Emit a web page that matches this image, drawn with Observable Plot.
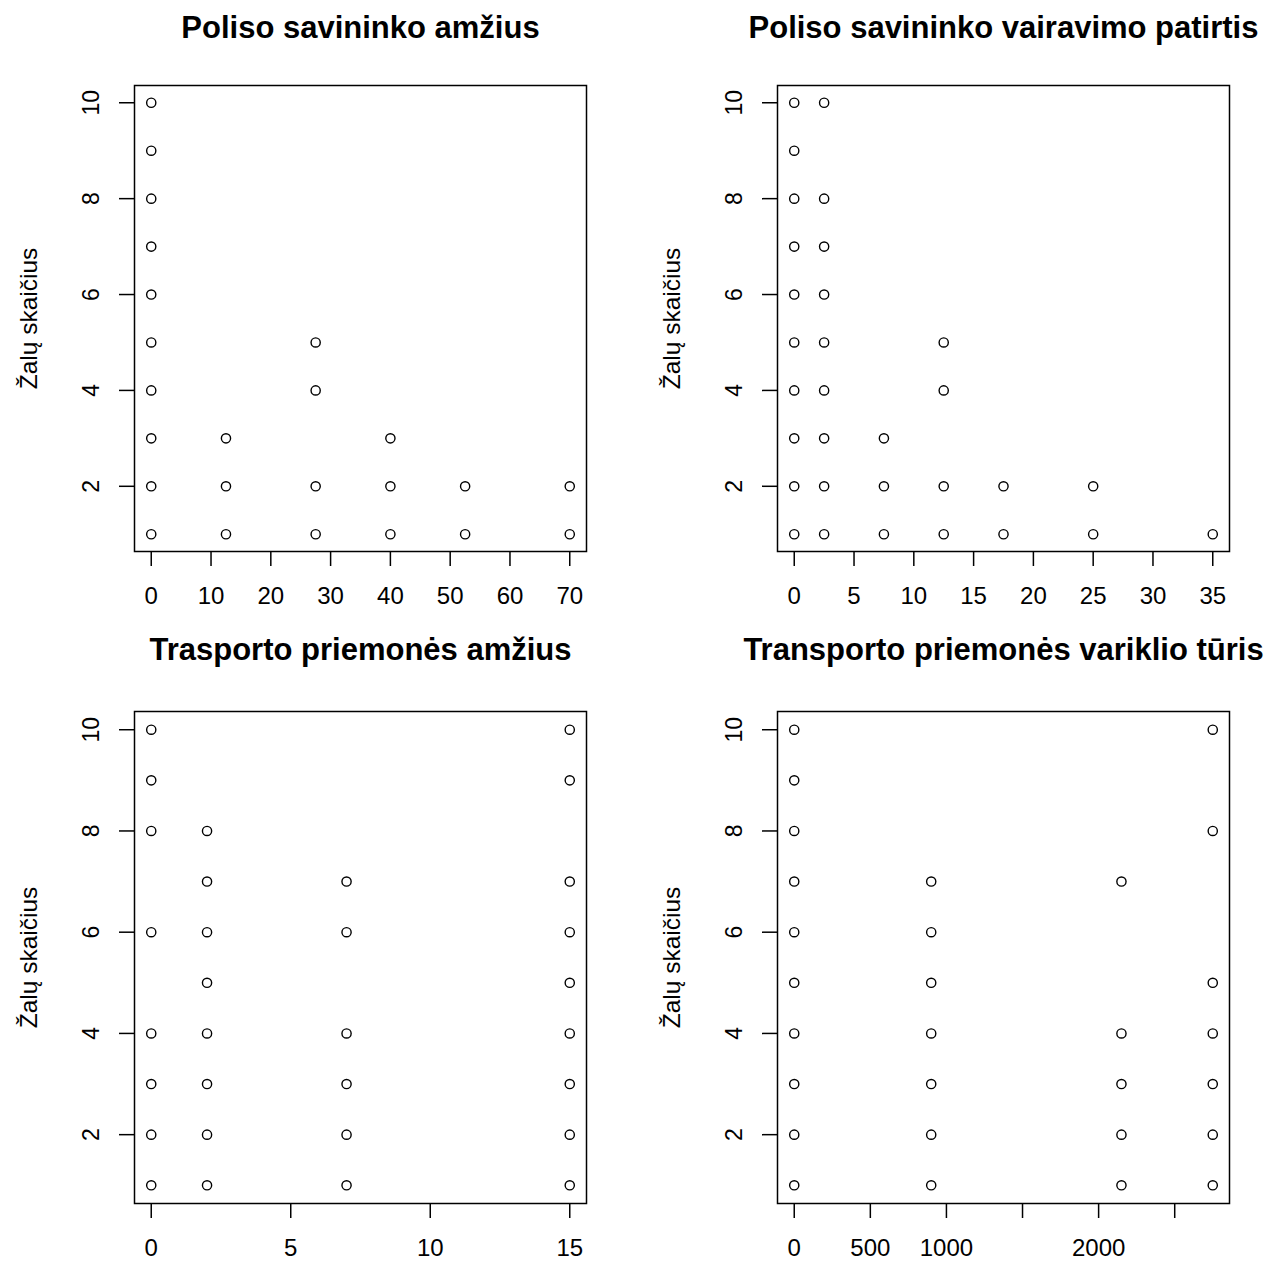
<!DOCTYPE html>
<html>
<head>
<meta charset="utf-8">
<script src="https://cdn.jsdelivr.net/npm/d3@7"></script>
<script src="https://cdn.jsdelivr.net/npm/@observablehq/plot@0.6"></script>
<style>
  html, body { margin: 0; padding: 0; background: white; }
  #wrap { position: relative; width: 1284px; height: 1264px; overflow: hidden; background: white; }
  .panel { position: absolute; }
</style>
</head>
<body>
<div id="wrap"></div>
<script>
// ---- Data ----
const titles = [
  "Poliso savininko amžius",
  "Poliso savininko vairavimo patirtis",
  "Trasporto priemonės amžius",
  "Transporto priemonės variklio tūris"
];
const yLabel = "Žalų skaičius";
const yTicks = [2, 4, 6, 8, 10];

// Panel 1: owner age
const ownerAgeX = [0,0,0,0,0,0,0,0,0,0, 12.5,12.5,12.5, 27.5,27.5,27.5,27.5, 40,40,40, 52.5,52.5, 70,70];
const ownerAgeY = [1,2,3,4,5,6,7,8,9,10, 1,2,3, 1,2,4,5, 1,2,3, 1,2, 1,2];
const ownerAgeTicks = [0, 10, 20, 30, 40, 50, 60, 70];
const ownerAgeLabels = ["0", "10", "20", "30", "40", "50", "60", "70"];

// Panel 2: driving experience
const experienceX = [0,0,0,0,0,0,0,0,0,0, 2.5,2.5,2.5,2.5,2.5,2.5,2.5,2.5,2.5, 7.5,7.5,7.5, 12.5,12.5,12.5,12.5, 17.5,17.5, 25,25, 35];
const experienceY = [1,2,3,4,5,6,7,8,9,10, 1,2,3,4,5,6,7,8,10, 1,2,3, 1,2,4,5, 1,2, 1,2, 1];
const experienceTicks = [0, 5, 10, 15, 20, 25, 30, 35];
const experienceLabels = ["0", "5", "10", "15", "20", "25", "30", "35"];

// Panel 3: vehicle age
const vehicleAgeX = [0,0,0,0,0,0,0,0, 2,2,2,2,2,2,2,2, 7,7,7,7,7,7, 15,15,15,15,15,15,15,15,15];
const vehicleAgeY = [1,2,3,4,6,8,9,10, 1,2,3,4,5,6,7,8, 1,2,3,4,6,7, 1,2,3,4,5,6,7,9,10];
const vehicleAgeTicks = [0, 5, 10, 15];
const vehicleAgeLabels = ["0", "5", "10", "15"];

// Panel 4: engine volume
const engineX = [0,0,0,0,0,0,0,0,0,0, 900,900,900,900,900,900,900, 2150,2150,2150,2150,2150, 2750,2750,2750,2750,2750,2750,2750];
const engineY = [1,2,3,4,5,6,7,8,9,10, 1,2,3,4,5,6,7, 1,2,3,4,7, 1,2,3,4,5,8,10];
const engineTicks = [0, 500, 1000, 1500, 2000, 2500];
const engineLabels = ["0", "500", "1000", "", "2000", ""];

// ---- Drawing ----
const FONT = "'Liberation Sans', Arial, Helvetica, sans-serif";

function rDomain(vals) {
  const lo = d3.min(vals), hi = d3.max(vals);
  const pad = (hi - lo) * 0.04;
  return [lo - pad, hi + pad];
}

function panel({left, top, width, height, margins, title, titleDy, xs, ys, xTicks, xLabels}) {
  const data = xs.map((x, i) => ({x, y: ys[i]}));
  const labelMap = new Map(xTicks.map((t, i) => [t, xLabels[i]]));
  const chart = Plot.plot({
    width, height,
    marginLeft: margins[0], marginRight: margins[1], marginTop: margins[2], marginBottom: margins[3],
    style: {fontFamily: FONT, fontSize: "24px", color: "black", background: "white", overflow: "visible"},
    x: {domain: rDomain(xs), axis: null},
    y: {domain: rDomain(ys), axis: null},
    marks: [
      Plot.frame({stroke: "black", strokeWidth: 1.5}),
      Plot.axisX({ticks: xTicks, tickFormat: d => labelMap.get(d), tickSize: 15, tickPadding: 20,
                  fontSize: 24, strokeWidth: 1.5, label: null}),
      Plot.axisY({ticks: yTicks, tickFormat: d => String(d), tickSize: 15, tickPadding: 21, tickRotate: -90,
                  fontSize: 23, strokeWidth: 1.5, label: null}),
      Plot.dot(data, {x: "x", y: "y", r: 4.6, stroke: "black", strokeWidth: 1.4, fill: "none"}),
      Plot.text([title], {text: d => d, frameAnchor: "top", textAnchor: "middle", dy: titleDy, lineAnchor: "bottom",
                          fontSize: 31, fontWeight: "bold", fill: "black"}),
      Plot.text([yLabel], {text: d => d, frameAnchor: "left", textAnchor: "middle", dx: -105, rotate: -90,
                           lineAnchor: "middle", fontSize: 24.5, fill: "black"})
    ]
  });
  const div = document.createElement("div");
  div.className = "panel";
  div.style.left = left + "px";
  div.style.top = top + "px";
  div.appendChild(chart);
  document.getElementById("wrap").appendChild(div);
}

panel({left: 0, top: 0, width: 640, height: 620, margins: [134, 54, 85, 69], title: titles[0], titleDy: -48,
       xs: ownerAgeX, ys: ownerAgeY, xTicks: ownerAgeTicks, xLabels: ownerAgeLabels});
panel({left: 640, top: 0, width: 644, height: 620, margins: [137, 55, 85, 69], title: titles[1], titleDy: -48,
       xs: experienceX, ys: experienceY, xTicks: experienceTicks, xLabels: experienceLabels});
panel({left: 0, top: 620, width: 640, height: 644, margins: [134, 54, 91, 61], title: titles[2], titleDy: -52,
       xs: vehicleAgeX, ys: vehicleAgeY, xTicks: vehicleAgeTicks, xLabels: vehicleAgeLabels});
panel({left: 640, top: 620, width: 644, height: 644, margins: [137, 55, 91, 61], title: titles[3], titleDy: -52,
       xs: engineX, ys: engineY, xTicks: engineTicks, xLabels: engineLabels});
</script>
</body>
</html>
